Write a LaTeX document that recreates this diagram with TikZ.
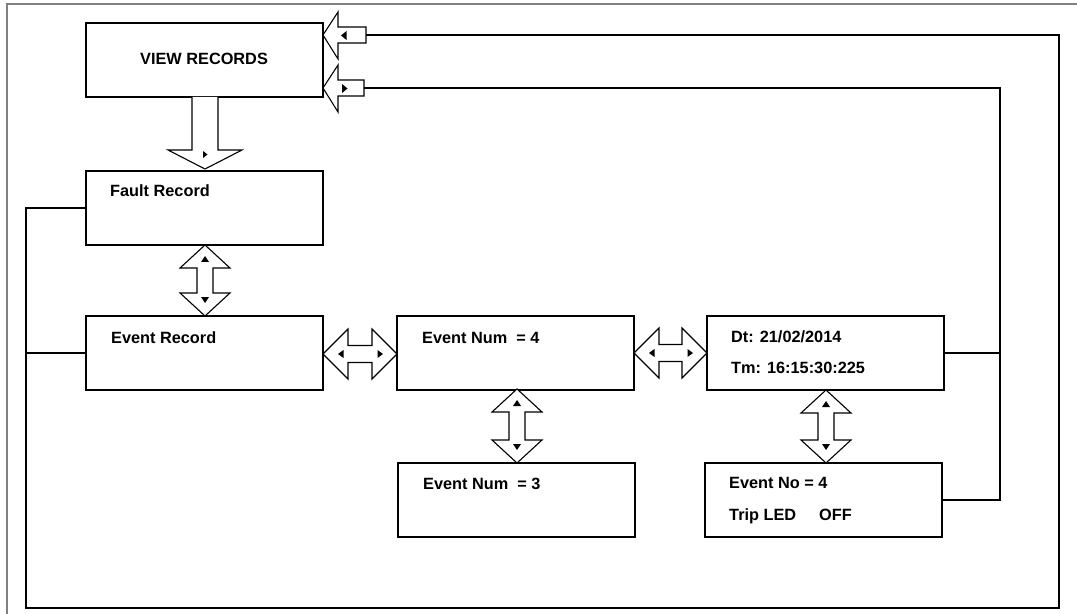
\documentclass[tikz,border=0pt]{standalone}
\usepackage{fontspec}
\setmainfont{Liberation Sans}
\usetikzlibrary{calc}
\definecolor{framegray}{RGB}{128,128,128}
\newcommand{\VArrow}[3]{%
  \pgfmathsetmacro\vlen{#3-#2-46}%
  \draw[barrow] (#1,#2) -- ++(25,23) -- ++(-17,0) -- ++(0,\vlen) -- ++(17,0) -- ++(-25,23) -- ++(-25,-23) -- ++(17,0) -- ++(0,-\vlen) -- ++(-17,0) -- cycle;
  \fill (#1,#2) ++(-4,17) -- ++(8,0) -- ++(-4,-6) -- cycle;
  \fill (#1,#3) ++(-4,-19) -- ++(8,0) -- ++(-4,6) -- cycle;
}
\newcommand{\HArrow}[3]{%
  \pgfmathsetmacro\hlen{#2-#1-50}%
  \draw[barrow] (#1,#3) -- ++(25,-25) -- ++(0,16.5) -- ++(\hlen,0) -- ++(0,-16.5) -- ++(25,25) -- ++(-25,25) -- ++(0,-16.5) -- ++(-\hlen,0) -- ++(0,16.5) -- cycle;
  \fill (#1,#3) ++(15,0) -- ++(5.5,-4) -- ++(0,8) -- cycle;
  \fill (#2,#3) ++(-14,0) -- ++(-5.5,-4) -- ++(0,8) -- cycle;
}
\begin{document}
\begin{tikzpicture}[x=1bp,y=-1bp,
  box/.style={draw,line width=1.8bp,minimum width=237bp,minimum height=74bp,inner sep=0pt,outer sep=0pt,anchor=north west},
  lbl/.style={font=\fontsize{16.3bp}{19bp}\selectfont\bfseries,inner sep=0pt,anchor=base west},
  barrow/.style={draw,fill=white,line width=1.1bp,line join=miter},
  conn/.style={draw,line width=1.5bp}]
\useasboundingbox (0,0) rectangle (1077,614);
\draw[framegray,line width=2bp] (7,614) -- (7,4.3) -- (1077,4.3);

% boxes
\node[box] (vr) at (86,23) {};
\node[box] (fault) at (86,171) {};
\node[box] (event) at (86,316) {};
\node[box] (num4) at (397,316) {};
\node[box] (num3) at (398,463) {};
\node[box] (dt) at (707,316) {};
\node[box] (evno) at (705,463) {};

% texts
\node[lbl] (tvr) at (140,65) {VIEW RECORDS};
\node[lbl] (tfault) at (110,197) {Fault Record};
\node[lbl] (tevent) at (111,343) {Event Record};
\node[lbl] (tnum4) at (422,343) {Event Num\ \ = 4};
\node[lbl] (tnum3) at (423,489) {Event Num\ \ = 3};
\node[lbl] (tdt) at (731,342) {Dt: 21/02/2014};
\node[lbl] (ttm) at (731,373) {Tm: 16:15:30:225};
\node[lbl] (tevno) at (729,488) {Event No = 4};
\node[lbl] (ttrip) at (729,520) {Trip LED\hspace{23bp}OFF};

% connector coordinates
\coordinate (a1) at (366,35);
\coordinate (a2) at (364,88);
\coordinate (rr) at (1059,608);
\coordinate (ll) at (26,608);
\coordinate (rj) at (1000,0);

% connectors
\draw[conn] (a1) -| (rr) -- (ll) |- (fault.west);
\draw[conn] (event.west) -- (event.west -| ll);
\draw[conn] (a2) -| (evno.east -| rj) -- (evno.east);
\draw[conn] (dt.east) -- (dt.east -| rj);

% block arrows into VIEW RECORDS
\draw[barrow] (366,27) -- (338,27) -- (338,12) -- (323,35) -- (338,59) -- (338,43) -- (366,43) -- cycle;
\fill (341,35.5) -- (346.5,31) -- (346.5,40) -- cycle;
\draw[barrow] (364,80) -- (338,80) -- (338,65) -- (323,88) -- (338,112) -- (338,96) -- (364,96) -- cycle;
\fill (347.5,88.5) -- (342,84) -- (342,93) -- cycle;

% down arrow from VIEW RECORDS
\draw[barrow] (192,97) -- (192,150) -- (168,150) -- (205,169) -- (242,150) -- (218,150) -- (218,97);
\fill (203,151) -- (207.5,154.5) -- (203,158) -- cycle;

% double arrows
\VArrow{205}{245}{316}
\VArrow{517}{389}{463}
\VArrow{826}{390}{463}
\HArrow{323}{397}{354}
\HArrow{634}{707}{353}
\end{tikzpicture}
\end{document}
